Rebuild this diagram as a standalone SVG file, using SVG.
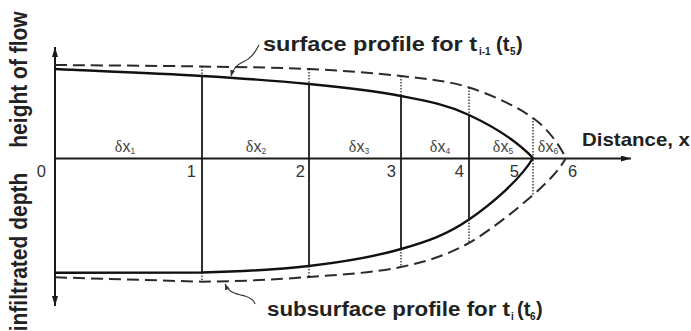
<svg xmlns="http://www.w3.org/2000/svg" width="691" height="331" viewBox="0 0 691 331">
<defs>
<marker id="ah" viewBox="0 0 10 6" refX="10" refY="3" markerWidth="10" markerHeight="6" markerUnits="userSpaceOnUse" orient="auto-start-reverse">
<path d="M0,0 L10,3 L0,6 Z" fill="#1a1a1a"/>
</marker>
<marker id="sm" viewBox="0 0 6 6" refX="6" refY="3" markerWidth="6" markerHeight="6" markerUnits="userSpaceOnUse" orient="auto-start-reverse">
<path d="M0,0.5 L6,3 L0,5.5 Z" fill="#333"/>
</marker>
<style>
.ax{stroke:#1a1a1a;stroke-width:2;fill:none}
.sol{stroke:#111;stroke-width:2.4;fill:none}
.vl{stroke:#1a1a1a;stroke-width:1.8;fill:none}
.dash{stroke:#2a2a2a;stroke-width:2;fill:none;stroke-dasharray:12 6}
.dot{stroke:#222;stroke-width:1.3;fill:none;stroke-dasharray:1.5 1.5}
.lead{stroke:#333;stroke-width:1.2;fill:none}
.lbl{font-family:"Liberation Sans",Arial,sans-serif;font-weight:bold;fill:#222}
.num{font-family:"Liberation Sans",Arial,sans-serif;font-size:16.5px;fill:#333}
.dx{font-family:"Liberation Sans",Arial,sans-serif;font-size:16px;fill:#444}
.dx .d{font-family:"Liberation Serif","Times New Roman",serif}
.dx .s{font-size:8.5px}
</style>
</defs>

<g id="axes">
<line class="ax" x1="55" y1="306" x2="55" y2="47" marker-start="url(#ah)" marker-end="url(#ah)"/>
<line class="ax" x1="55" y1="158.5" x2="631" y2="158.5" marker-end="url(#ah)"/>
</g>

<g id="connectors">
<path class="sol" d="M55,69 C79.5,70.2 159.7,73.5 202,76 C244.3,78.5 275.8,80.7 309,84 C342.2,87.3 374.3,90.8 401,96 C427.7,101.2 447,104.7 469,115 C491,125.3 516,140 533,158"/>
<path class="sol" d="M55,272.7 L202,272.5 C238,271.5 275.8,269.9 309,266 C342.2,262.1 374.3,256.8 401,249 C427.7,241.3 447,234.7 469,219.5 C491,204.3 520,180 533,158"/>
<path class="dash" d="M55,65 C79.5,65.25 159.7,65.7 202,66.5 C244.3,67.2 275.8,67.4 309,69 C342.2,70.6 374.3,72.9 401,76 C427.7,79.1 447,80.5 469,87.5 C491,94.5 516.8,106.3 533,118 C549.2,129.75 559,145 566,158"/>
<path class="dash" d="M55,277.3 L202,281.7 C238,281.5 275.8,279.5 309,277 C342.2,274.5 374.3,272.7 401,267 C427.7,261.3 447,255 469,243 C491,230 516.8,209.2 533,195 C549.2,180.8 559,170 566,158"/>
<line class="vl" x1="202" y1="76" x2="202" y2="272.5"/>
<line class="vl" x1="309" y1="84" x2="309" y2="266"/>
<line class="vl" x1="401" y1="96" x2="401" y2="249"/>
<line class="vl" x1="469" y1="115" x2="469" y2="219.5"/>
<line class="dot" x1="202" y1="66.5" x2="202" y2="76"/>
<line class="dot" x1="309" y1="69" x2="309" y2="84"/>
<line class="dot" x1="401" y1="76" x2="401" y2="96"/>
<line class="dot" x1="469" y1="87.5" x2="469" y2="115"/>
<line class="dot" x1="533" y1="118" x2="533" y2="195"/>
<line class="dot" x1="202" y1="272.5" x2="202" y2="281.7"/>
<line class="dot" x1="309" y1="266" x2="309" y2="277"/>
<line class="dot" x1="401" y1="249" x2="401" y2="267"/>
<line class="dot" x1="469" y1="219.5" x2="469" y2="243"/>
<path class="lead" d="M259,45 C255,52 252,58 243,62 C236,65 233,69 231,76" marker-end="url(#sm)"/>
<path class="lead" d="M255,304 C254,300 251,298 245,296 C236,294 229,293 225,284" marker-end="url(#sm)"/>
</g>

<g id="axis-labels">
<text class="lbl" font-size="21" text-anchor="middle" transform="translate(27,79.5) rotate(-90) scale(1,1.1)">height of flow</text>
<text class="lbl" font-size="21" text-anchor="middle" transform="translate(27,252) rotate(-90) scale(1,1.1)">infiltrated depth</text>
<text class="lbl" font-size="19" x="582" y="146" textLength="108" lengthAdjust="spacingAndGlyphs">Distance, x</text>
</g>

<g id="surface-label">
<text class="lbl" font-size="20" x="263" y="51" textLength="214" lengthAdjust="spacingAndGlyphs">surface profile for t</text>
<text class="lbl" font-size="10" x="479" y="55">i-1</text>
<text class="lbl" font-size="20" x="496" y="51">(t</text>
<text class="lbl" font-size="10" x="510" y="55">5</text>
<text class="lbl" font-size="20" x="516" y="51">)</text>
</g>

<g id="subsurface-label">
<text class="lbl" font-size="20" x="267" y="316" textLength="243" lengthAdjust="spacingAndGlyphs">subsurface profile for t</text>
<text class="lbl" font-size="10" x="511" y="320">i</text>
<text class="lbl" font-size="20" x="517" y="316">(t</text>
<text class="lbl" font-size="10" x="530" y="320">6</text>
<text class="lbl" font-size="20" x="536" y="316">)</text>
</g>

<g id="nodes">
<text class="num" x="46" y="177" text-anchor="end">0</text>
<text class="num" x="196" y="177" text-anchor="end">1</text>
<text class="num" x="305" y="177" text-anchor="end">2</text>
<text class="num" x="396" y="177" text-anchor="end">3</text>
<text class="num" x="464" y="177" text-anchor="end">4</text>
<text class="num" x="519" y="177" text-anchor="end">5</text>
<text class="num" x="568" y="177">6</text>
<text class="dx" x="125" y="152" text-anchor="middle"><tspan class="d">δ</tspan>x<tspan class="s" dy="2">1</tspan></text>
<text class="dx" x="256" y="152" text-anchor="middle"><tspan class="d">δ</tspan>x<tspan class="s" dy="2">2</tspan></text>
<text class="dx" x="359" y="152" text-anchor="middle"><tspan class="d">δ</tspan>x<tspan class="s" dy="2">3</tspan></text>
<text class="dx" x="440" y="152" text-anchor="middle"><tspan class="d">δ</tspan>x<tspan class="s" dy="2">4</tspan></text>
<text class="dx" x="503" y="152" text-anchor="middle"><tspan class="d">δ</tspan>x<tspan class="s" dy="2">5</tspan></text>
<text class="dx" x="548" y="152" text-anchor="middle"><tspan class="d">δ</tspan>x<tspan class="s" dy="2">6</tspan></text>
</g>
</svg>
